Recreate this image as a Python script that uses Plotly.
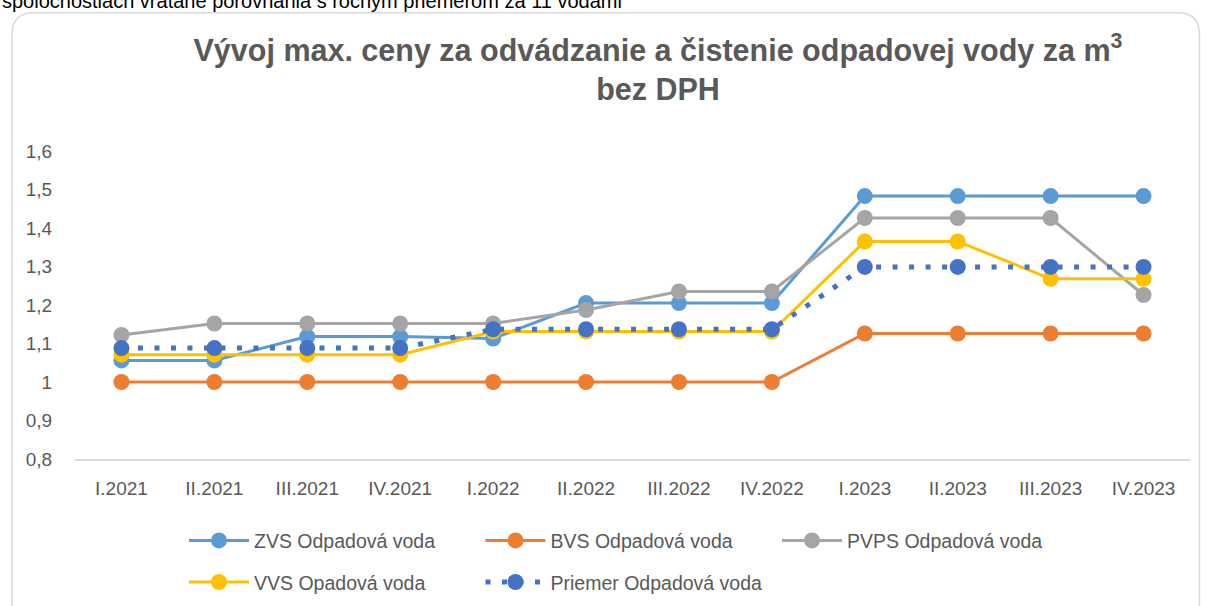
import plotly.graph_objects as go

# ---- data ----
quarters = ["I.2021", "II.2021", "III.2021", "IV.2021", "I.2022", "II.2022",
            "III.2022", "IV.2022", "I.2023", "II.2023", "III.2023", "IV.2023"]
zvs = [1.056, 1.056, 1.118, 1.118, 1.113, 1.205, 1.205, 1.205, 1.483, 1.483, 1.483, 1.483]
bvs = [1.0, 1.0, 1.0, 1.0, 1.0, 1.0, 1.0, 1.0, 1.126, 1.126, 1.126, 1.126]
pvps = [1.122, 1.152, 1.152, 1.152, 1.152, 1.187, 1.235, 1.235, 1.426, 1.426, 1.426, 1.226]
vvs = [1.071, 1.071, 1.071, 1.071, 1.131, 1.131, 1.131, 1.131, 1.365, 1.365, 1.268, 1.268]
priemer = [1.088, 1.088, 1.088, 1.088, 1.137, 1.137, 1.137, 1.137, 1.299, 1.299, 1.299, 1.299]
y_ticks = [0.8, 0.9, 1.0, 1.1, 1.2, 1.3, 1.4, 1.5, 1.6]
y_tick_labels = ["0,8", "0,9", "1", "1,1", "1,2", "1,3", "1,4", "1,5", "1,6"]
series_names = ["ZVS Odpadová voda", "BVS Odpadová voda", "PVPS Odpadová voda",
                "VVS Opadová voda", "Priemer Odpadová voda"]

FONT = "Liberation Sans, Arial, sans-serif"
GREY = "#595959"

W, H = 1206, 606
ML, MR, MT, MB = 75, 15.5, 150.5, 146.7
PW = W - ML - MR
PH = H - MT - MB


def px_x(px):
    return (px - ML) / PW


def px_y(py):
    return (H - MB - py) / PH


fig = go.Figure()

styles = [
    dict(color="#5B9BD5", legend="legend"),
    dict(color="#ED7D31", legend="legend"),
    dict(color="#A5A5A5", legend="legend"),
    dict(color="#FFC000", legend="legend2"),
]
for name, vals, st in zip(series_names[:4], [zvs, bvs, pvps, vvs], styles):
    fig.add_trace(go.Scatter(
        x=quarters, y=vals, name=name, mode="lines+markers",
        line=dict(color=st["color"], width=3),
        marker=dict(color=st["color"], size=16),
        legend=st["legend"],
    ))

fig.add_trace(go.Scatter(
    x=quarters, y=priemer, name=series_names[4], mode="lines+markers",
    line=dict(color="#4472C4", width=5, dash="5px,11.5px"),
    marker=dict(color="#4472C4", size=16, symbol="circle"),
    legend="legend2",
))

# rounded chart border (decoration)
x0, x1 = px_x(12), px_x(1200)
y1, y0 = px_y(12), px_y(640)
rx, ry = 22 / PW, 22 / PH
path = (f"M {x0},{y0} L {x0},{y1-ry} Q {x0},{y1} {x0+rx},{y1} "
        f"L {x1-rx},{y1} Q {x1},{y1} {x1},{y1-ry} L {x1},{y0}")
fig.add_shape(type="path", path=path, xref="paper", yref="paper",
              line=dict(color="#D9D9D9", width=1.5), layer="below")

# cut-off paragraph text at very top
fig.add_annotation(
    text="spoločnostiach vrátane porovnania s ročným priemerom za 11 vodami",
    xref="paper", yref="paper", x=px_x(0), y=px_y(0), xanchor="left", yanchor="middle",
    showarrow=False, font=dict(family=FONT, size=20, color="#000000"),
)

fig.update_layout(
    width=W, height=H,
    margin=dict(l=ML, r=MR, t=MT, b=MB, pad=0),
    paper_bgcolor="white", plot_bgcolor="white",
    font=dict(family=FONT, color=GREY, size=19),
    title=dict(
        text="<b>Vývoj max. ceny za odvádzanie a čistenie odpadovej vody za m<sup>3</sup><br>bez DPH</b>",
        x=658 / W, xanchor="center", xref="container",
        y=1 - 60.5 / H, yanchor="top", yref="container",
        font=dict(family=FONT, size=30.5, color=GREY),
    ),
    xaxis=dict(
        type="category", range=[-0.5, 11.5],
        showgrid=False, zeroline=False,
        showline=True, linecolor="#D9D9D9", linewidth=1.5,
        ticks="outside", ticklen=11, tickcolor="rgba(0,0,0,0)",
        tickfont=dict(family=FONT, size=19, color=GREY),
    ),
    yaxis=dict(
        range=[0.8, 1.6], tickvals=y_ticks, ticktext=y_tick_labels,
        showgrid=False, zeroline=False, showline=False,
        ticks="outside", ticklen=18, tickcolor="rgba(0,0,0,0)",
        tickfont=dict(family=FONT, size=19, color=GREY),
    ),
    showlegend=True,
    legend=dict(
        orientation="h", xref="container", yref="container",
        x=184 / W, xanchor="left", y=1 - 540.7 / H, yanchor="middle",
        itemwidth=60, entrywidth=221.5, entrywidthmode="pixels",
        font=dict(family=FONT, size=19.5, color=GREY),
        bgcolor="rgba(0,0,0,0)", borderwidth=0,
    ),
    legend2=dict(
        orientation="h", xref="container", yref="container",
        x=184 / W, xanchor="left", y=1 - 582.3 / H, yanchor="middle",
        itemwidth=60, entrywidth=221.5, entrywidthmode="pixels",
        font=dict(family=FONT, size=19.5, color=GREY),
        bgcolor="rgba(0,0,0,0)", borderwidth=0,
    ),
)

fig.write_html("out.html", config={"displayModeBar": False},
               post_script="document.body.style.margin='0px';")
